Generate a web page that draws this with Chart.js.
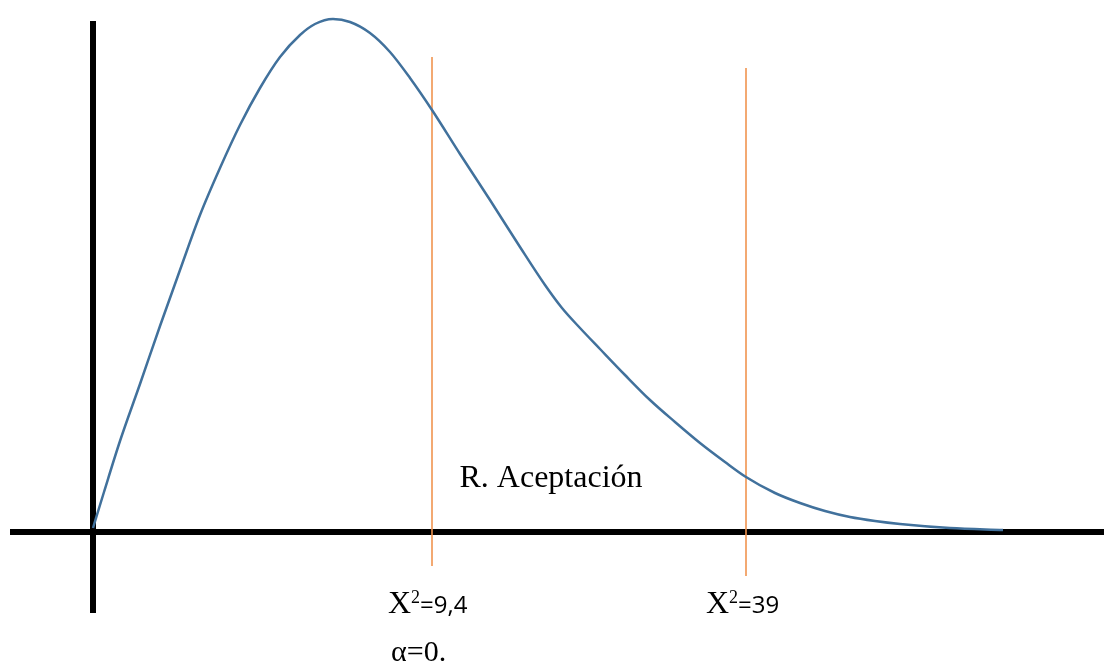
<!DOCTYPE html>
<html>
<head>
<meta charset="utf-8">
<script src="https://cdn.jsdelivr.net/npm/chart.js@4.4.1/dist/chart.umd.min.js"></script>
<style>
  html, body { margin: 0; padding: 0; background: #fff; }
  #wrap { width: 1104px; height: 664px; position: relative; }
</style>
</head>
<body>
<div id="wrap"><canvas id="chiChart"></canvas></div>
<script>
// curva chi-cuadrado (dibujo aproximado)
const curveX = [0, 1.1, 2.7, 4.7, 6.7, 8.7, 10.7, 12.7, 14.7, 16.7, 18.7, 20.7, 22.2, 24, 25.7, 27.7, 29.7, 31.7, 33.9, 36.7, 39.7, 42.7, 45.2, 46.9, 48.7, 50.7, 53.2, 55.7, 58.2, 60.7, 63.2, 65.3, 68.2, 70.7, 73.2, 75.7, 78.2, 80.7, 85.7, 91];
const curveY = [0.8, 8, 18.2, 29.6, 41.2, 52.4, 63.4, 72.8, 81.4, 88.8, 95, 99.4, 101.6, 102.6, 102, 99.8, 96, 90.8, 84.4, 75.6, 66.4, 57, 49.4, 44.8, 40.8, 36.6, 31.4, 26.4, 22, 17.8, 14, 11, 7.8, 5.8, 4.2, 3, 2.2, 1.6, 0.8, 0.4];

// ejes
const axisX = [-8.3, 101.1];
const axisY = [-16.2, 102.2];

// valores criticos
const critX = [33.9, 65.3];
const critTop = [95, 92.8];
const critBottom = [-6.8, -8.8];

const labelCrit = ['9,4', '39'];
const labelRegion = 'R. Aceptación';
const labelAlpha = 'α=0.';

const curvePts = curveX.map((x, i) => ({ x, y: curveY[i] }));

const datasets = [
  { label: 'ejeX', data: [{ x: axisX[0], y: 0 }, { x: axisX[1], y: 0 }], borderColor: '#000', borderWidth: 6, order: 5 },
  { label: 'ejeY', data: [{ x: 0, y: axisY[0] }, { x: 0, y: axisY[1] }], borderColor: '#000', borderWidth: 6, order: 5 },
  { label: 'curva', data: curvePts, borderColor: '#41719C', borderWidth: 2.5, cubicInterpolationMode: 'monotone', order: 1 }
];
critX.forEach((x, i) => {
  datasets.push({ label: 'crit' + i, data: [{ x, y: critBottom[i] }, { x, y: critTop[i] }], borderColor: '#F0944F', borderWidth: 1.6, order: 3 });
});

const textPlugin = {
  id: 'textos',
  afterDatasetsDraw(chart) {
    const ctx = chart.ctx;
    const sx = chart.scales.x, sy = chart.scales.y;
    ctx.save();
    ctx.fillStyle = '#000';
    ctx.textBaseline = 'alphabetic';

    // R. Aceptación
    ctx.font = '32px "Liberation Serif", "Times New Roman", serif';
    ctx.textAlign = 'center';
    ctx.fillText(labelRegion, sx.getPixelForValue(45.8), sy.getPixelForValue(9));

    // X²=...
    ctx.textAlign = 'left';
    const base = sy.getPixelForValue(0) + 81;
    critX.forEach((x, i) => {
      let px = sx.getPixelForValue(x) - 44 + (i === 1 ? 4 : 0);
      ctx.font = '32px "Liberation Serif", serif';
      ctx.fillText('X', px, base);
      px += ctx.measureText('X').width;
      ctx.font = '18px "Liberation Serif", serif';
      ctx.fillText('2', px, base - 10);
      px += ctx.measureText('2').width;
      ctx.font = '24px "Open Sans", "Liberation Sans", sans-serif';
      ctx.fillText('=' + labelCrit[i], px, base);
    });

    // alfa
    ctx.font = '30px "Liberation Serif", serif';
    ctx.fillText(labelAlpha, sx.getPixelForValue(critX[0]) - 41, base + 48);
    ctx.restore();
  }
};

new Chart(document.getElementById('chiChart'), {
  type: 'scatter',
  data: { datasets },
  options: {
    responsive: true,
    maintainAspectRatio: false,
    animation: false,
    showLine: true,
    elements: { point: { radius: 0, hoverRadius: 0 } },
    layout: { padding: 0 },
    plugins: { legend: { display: false }, tooltip: { enabled: false } },
    scales: {
      x: { type: 'linear', min: -9.3, max: 101.1, display: false },
      y: { type: 'linear', min: -26.4, max: 106.4, display: false }
    }
  },
  plugins: [textPlugin]
});
</script>
</body>
</html>
